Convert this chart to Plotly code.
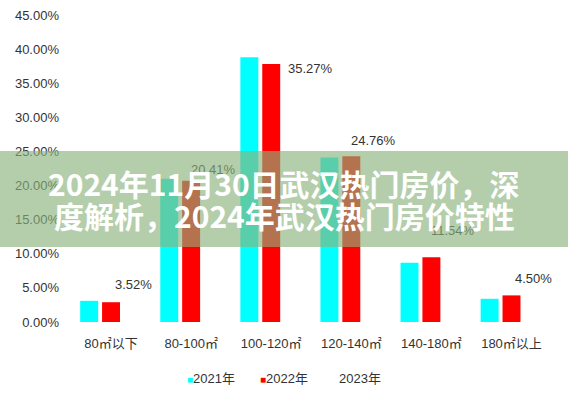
import plotly.graph_objects as go

categories = ["80㎡以下", "80-100㎡", "100-120㎡", "120-140㎡", "140-180㎡", "180㎡以上"]
series_names = ["2021年", "2022年", "2023年"]
series_colors = ["#00FFFF", "#FF0000", "#FFFFFF"]
values_2021 = [3.1, 21.0, 38.8, 24.1, 8.7, 3.4]
values_2022 = [2.9, 20.7, 37.8, 24.3, 9.5, 3.9]
values_2023 = [3.52, 20.41, 35.27, 24.76, 11.54, 4.50]
y_ticks = [0, 5, 10, 15, 20, 25, 30, 35, 40, 45]

title_line1 = "2024年11月30日武汉热门房价，深"
title_line2 = "度解析，2024年武汉热门房价特性"

BASE_FONT = "Liberation Sans, Arial, Noto Sans CJK SC, sans-serif"
TEXT_COLOR = "#333333"

fig = go.Figure()
for name, color, vals in zip(series_names, series_colors,
                             [values_2021, values_2022, values_2023]):
    fig.add_trace(go.Bar(x=categories, y=vals, name=name,
                         marker=dict(color=color, line=dict(width=0))))

annotations = []
# data labels for the 2023 series (placed above its bars)
for cat, v23, v22 in zip(categories, values_2023, values_2022):
    shift = 22
    if v22 > v23 + 1:
        shift += 17  # move label clear of the taller neighbouring bar
    annotations.append(dict(
        x=cat, y=v23, xref="x", yref="y", text=f"{v23:.2f}%",
        showarrow=False, xshift=shift, yshift=13,
        font=dict(family=BASE_FONT, size=13, color=TEXT_COLOR)))

# compact legend row (small square swatch + series name)
legend_x_px = [185, 258, 331]
for name, color, xp in zip(series_names, series_colors, legend_x_px):
    annotations.append(dict(
        x=(xp - 71) / 483, y=(322 - 378) / 307, xref="paper", yref="paper",
        xanchor="left", yanchor="middle", showarrow=False,
        text=f'<span style="color:{color};font-size:10px">■</span>{name}',
        font=dict(family=BASE_FONT, size=13, color=TEXT_COLOR)))

# translucent banner overlay (drawn above bars and labels)
annotations.append(dict(
    x=(284 - 71) / 483, y=(322 - 199) / 307, xref="paper", yref="paper",
    xanchor="center", yanchor="middle", showarrow=False, text=" ",
    width=570, height=96, borderpad=0, borderwidth=0,
    bgcolor="rgba(138,178,124,0.64)"))

for txt, ypix in [(title_line1, 183), (title_line2, 215)]:
    annotations.append(dict(
        x=(284 - 71) / 483, y=(322 - ypix) / 307, xref="paper", yref="paper",
        text=f"<b>{txt}</b>", showarrow=False, xanchor="center", yanchor="middle",
        font=dict(family="Noto Sans CJK SC", size=30, color="white")))

fig.update_layout(
    width=568, height=398,
    margin=dict(l=71, r=14, t=15, b=76, autoexpand=False),
    paper_bgcolor="white", plot_bgcolor="white",
    barmode="group", bargap=0.18, bargroupgap=0.18,
    font=dict(family=BASE_FONT, size=13, color=TEXT_COLOR),
    showlegend=False,
    annotations=annotations,
)
fig.update_yaxes(range=[0, 45], tickvals=y_ticks,
                 ticktext=[f"{t:.2f}%" for t in y_ticks],
                 showgrid=False, zeroline=False, showline=False,
                 ticks="", ticklabelstandoff=11, automargin=False)
fig.update_xaxes(showgrid=False, zeroline=False, showline=False,
                 ticks="", ticklabelstandoff=12, automargin=False)

fig.write_html("out.html", config={"displayModeBar": False},
               post_script="document.body.style.margin='0';document.body.style.padding='0';")
